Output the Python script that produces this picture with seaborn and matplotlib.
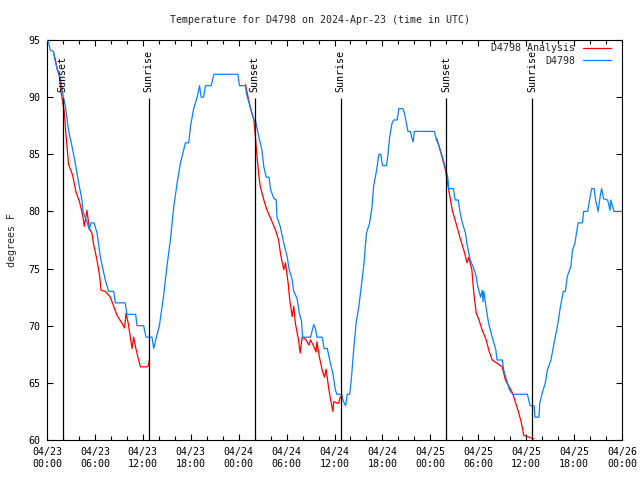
import matplotlib
matplotlib.use("Agg")
import numpy as np
import pandas as pd
import matplotlib.pyplot as plt
import matplotlib.dates as mdates
from matplotlib.lines import Line2D
import seaborn as sns

# ---------------- data ----------------
START = pd.Timestamp("2024-04-23 00:00")
END = pd.Timestamp("2024-04-26 00:00")

# observed station temperatures (hours since 04/23 00:00 UTC, deg F)
obs_hours = [0.0, 0.2, 0.41, 0.83, 1.04, 1.45, 1.67, 2.0, 2.3, 2.7, 3.13, 3.55, 3.96, 4.38, 4.5,
             5.0, 5.3, 5.5, 5.9, 6.27, 6.68, 7.3, 7.72, 8.35, 8.56, 9.8, 10.0, 11.1, 11.27, 12.1,
             12.4, 13.15, 13.36, 13.7, 14.07, 14.6, 15.0, 15.45, 15.87, 16.3, 16.7, 17.33, 17.75,
             17.96, 18.37, 18.8, 19.1, 19.3, 19.6, 19.84, 20.55, 20.9, 23.9, 24.1, 24.85, 24.98,
             25.5, 25.9, 26.1, 26.5, 26.9, 27.15, 27.45, 27.8, 28.0, 28.4, 28.7, 28.8, 29.2, 29.65,
             30.08, 30.3, 30.7, 30.9, 31.3, 31.6, 31.87, 32.0, 33.0, 33.4, 33.6, 33.8, 34.46, 34.7,
             35.1, 35.4, 35.8, 36.1, 36.3, 36.9, 37.1, 37.4, 37.6, 37.9, 38.1, 38.4, 38.7, 39.05,
             39.35, 39.7, 40.0, 40.4, 40.7, 40.9, 41.27, 41.55, 41.8, 42.0, 42.5, 42.7, 42.9, 43.2,
             43.4, 43.85, 44.06, 44.55, 44.76, 45.0, 45.2, 45.5, 45.7, 45.85, 46.0, 48.5, 48.75,
             49.05, 49.5, 49.9, 50.2, 50.3, 50.9, 51.1, 51.5, 51.7, 52.0, 52.4, 52.6, 53.0, 53.45,
             53.75, 53.95, 54.3, 54.5, 54.6, 54.7, 55.0, 55.3, 55.75, 56.2, 56.35, 57.0, 57.2,
             57.55, 57.9, 58.3, 60.15, 60.5, 61.0, 61.1, 61.6, 61.7, 62.0, 62.4, 62.65, 63.1, 63.5,
             63.9, 64.3, 64.65, 64.9, 65.15, 65.6, 65.8, 66.1, 66.3, 66.5, 67.05, 67.2, 67.7, 67.9,
             68.2, 68.5, 68.7, 69.0, 69.3, 69.45, 69.7, 70.2, 70.5, 70.6, 71.0, 72.0]
obs_temp = [95.0, 94.8, 94.1, 94.0, 93.1, 92.1, 91.6, 90.2, 89.2, 87.1, 85.7, 84.2, 82.5, 81.0, 80.0,
            79.1, 78.4, 79.0, 79.0, 78.1, 76.0, 74.0, 73.0, 73.0, 72.0, 72.0, 71.0, 71.0, 70.0, 70.0,
            69.0, 69.0, 68.0, 69.0, 70.0, 72.6, 75.1, 77.5, 80.4, 82.5, 84.2, 86.0, 86.0,
            87.4, 89.0, 90.0, 91.0, 90.0, 90.0, 91.0, 91.0, 92.0, 92.0, 91.0, 91.0, 90.3,
            89.0, 88.0, 88.0, 86.6, 85.4, 83.9, 83.0, 83.0, 81.9, 81.15, 81.0, 79.5, 78.7, 77.2,
            76.0, 75.0, 74.0, 73.0, 72.4, 71.1, 70.4, 69.0, 69.0, 70.1, 69.8, 69.0, 69.0, 68.0,
            68.0, 67.0, 65.8, 64.4, 64.0, 64.0, 63.4, 63.0, 64.0, 64.0, 65.25, 67.9, 70.2, 71.7,
            73.4, 75.5, 78.1, 79.0, 80.4, 82.2, 83.6, 85.0, 85.0, 84.0, 84.0, 85.0, 86.5, 87.7,
            88.0, 88.0, 89.0, 89.0, 88.6, 87.7, 87.0, 87.0, 86.4, 86.1, 87.0, 87.0, 86.3,
            85.8, 84.8, 83.8, 82.9, 82.0, 82.0, 81.0, 81.0, 80.0, 79.0, 78.1, 77.1, 75.75, 75.0,
            74.3, 73.4, 72.5, 73.1, 72.1, 73.0, 71.5, 70.2, 69.0, 67.9, 67.0, 67.0, 66.1,
            65.25, 64.4, 64.0, 64.0, 63.0, 63.0, 62.0, 62.0, 63.2, 64.1, 65.0, 66.1, 67.0, 68.5,
            69.9, 71.7, 73.0, 73.0, 74.3, 75.2, 76.6, 77.2, 78.1, 79.0, 79.0, 80.0, 80.0, 80.85,
            82.0, 82.0, 81.0, 80.0, 81.5, 82.0, 81.1, 81.0, 80.1, 81.0, 80.0, 80.0]

# analysis temperatures, three overnight segments
ana1_hours = [0.83, 1.04, 1.25, 1.54, 1.75, 2.17, 2.38, 2.7, 3.2, 3.63, 4.05, 4.46, 4.67, 5.0, 5.3,
              5.63, 5.84, 6.26, 6.6, 6.77, 7.3, 7.93, 8.35, 8.77, 9.4, 9.72, 9.9, 10.15, 10.44,
              10.65, 10.85, 11.07, 11.4, 11.7, 12.5, 12.7, 12.8]
ana1_temp = [93.8, 93.3, 92.5, 91.9, 90.5, 88.7, 86.7, 84.1, 83.2, 81.7, 80.9, 79.7, 78.7, 80.1, 78.5,
             78.1, 77.1, 75.75, 74.3, 73.1, 73.0, 72.5, 71.7, 70.9, 70.2, 69.8, 71.1, 70.3, 69.0,
             68.0, 69.0, 68.2, 67.2, 66.4, 66.4, 66.5, 67.0]
ana2_hours = [24.85, 25.25, 25.5, 25.9, 26.1, 26.3, 26.5, 26.7, 27.15, 27.55, 28.0, 28.6, 29.0, 29.24,
              29.65, 29.86, 30.2, 30.4, 30.7, 30.9, 31.1, 31.5, 31.7, 31.95, 32.4, 32.8, 33.0, 33.4,
              33.7, 33.8, 34.1, 34.46, 34.75, 34.95, 35.3, 35.6, 35.8, 35.9, 36.5, 36.75]
ana2_temp = [91.1, 89.75, 89.0, 88.0, 86.5, 84.8, 83.3, 82.2, 81.0, 80.1, 79.4, 78.4, 77.5, 76.3,
             74.9, 75.5, 73.7, 72.25, 70.8, 71.7, 70.2, 68.75, 67.6, 69.0, 68.8, 68.3, 68.75, 68.2,
             67.7, 68.6, 67.3, 66.1, 65.5, 66.2, 64.4, 63.2, 62.5, 63.35, 63.2, 63.8]
ana3_hours = [48.8, 49.3, 49.9, 50.3, 50.75, 51.2, 51.8, 52.2, 52.6, 52.8, 53.2, 53.45, 53.75, 54.1,
              54.5, 55.0, 55.3, 55.75, 56.4, 57.0, 57.4, 57.85, 58.3, 58.7, 59.1, 59.4, 59.7, 60.15,
              60.55, 60.97]
ana3_temp = [86.4, 85.2, 83.6, 81.9, 80.1, 79.0, 77.5, 76.6, 75.5, 76.0, 74.9, 72.8, 71.1, 70.5,
             69.6, 68.75, 67.9, 67.0, 66.7, 66.4, 65.25, 64.7, 64.1, 63.2, 62.3, 61.5, 60.4, 60.3,
             60.2, 60.1]

sunset_times = ["2024-04-23 01:58", "2024-04-24 02:00", "2024-04-25 01:58"]
sunrise_times = ["2024-04-23 12:44", "2024-04-24 12:46", "2024-04-25 12:44"]

yticks = [60, 65, 70, 75, 80, 85, 90, 95]
title_text = "Temperature for D4798 on 2024-Apr-23 (time in UTC)"
ylabel_text = "degrees F"
label_ana = "D4798 Analysis"
label_obs = "D4798"
color_ana = "#ff0000"
color_obs = "#0a80ff"

# ---------------- frames ----------------
obs_df = pd.DataFrame({"time": START + pd.to_timedelta(obs_hours, unit="h"), "temp": obs_temp})
ana_parts = []
for seg, (hh, tt) in enumerate([(ana1_hours, ana1_temp), (ana2_hours, ana2_temp), (ana3_hours, ana3_temp)]):
    ana_parts.append(pd.DataFrame({"time": START + pd.to_timedelta(hh, unit="h"), "temp": tt, "seg": seg}))
ana_df = pd.concat(ana_parts, ignore_index=True)

# ---------------- style ----------------
sns.set_style("ticks")
plt.rcParams["font.family"] = ["DejaVu Sans Mono", "DejaVu Sans"]
plt.rcParams["font.size"] = 7.2

fig = plt.figure(figsize=(6.4, 4.8), dpi=100)
ax = fig.add_axes([47 / 640, 40 / 480, 575 / 640, 400 / 480])

sns.lineplot(data=ana_df, x="time", y="temp", units="seg", estimator=None,
             color=color_ana, lw=0.9, ax=ax, zorder=2)
sns.lineplot(data=obs_df, x="time", y="temp", color=color_obs, lw=0.9, ax=ax, zorder=3)

for name, times in (("Sunset", sunset_times), ("Sunrise", sunrise_times)):
    for t in times:
        tt = pd.Timestamp(t)
        ax.vlines(tt, 60, 89.9, color="black", lw=0.9, zorder=4)
        ax.text(tt, 90.45, name, rotation=90, ha="center", va="bottom",
                fontsize=7.2, color="black", zorder=5)

ax.set_xlim(START, END)
ax.set_ylim(60, 95)
ax.set_yticks(yticks)
ax.set_xticks(pd.date_range(START, END, freq="6h"))
ax.xaxis.set_minor_locator(mdates.HourLocator(byhour=range(0, 24, 2)))
ax.xaxis.set_major_formatter(mdates.DateFormatter("%m/%d\n%H:%M"))

ax.tick_params(axis="both", which="both", direction="in", top=True, right=True,
               colors="black", labelsize=7.2, width=0.8)
ax.tick_params(axis="x", which="major", length=4.5, pad=5)
ax.tick_params(axis="x", which="minor", length=3.0)
ax.tick_params(axis="y", which="major", length=4.0, pad=5)
for s in ax.spines.values():
    s.set_visible(True)
    s.set_color("black")
    s.set_linewidth(0.8)

ax.set_xlabel("")
ax.set_ylabel(ylabel_text, fontsize=7.2)
ax.yaxis.set_label_coords(-0.052, 0.5)

fig.text(0.5, 1 - 20 / 480, title_text, ha="center", va="center", fontsize=7.2)

handles = [Line2D([], [], color=color_ana, lw=0.9), Line2D([], [], color=color_obs, lw=0.9)]
ax.legend(handles, [label_ana, label_obs], loc="upper right",
          bbox_to_anchor=(611 / 640, 1 - 43 / 480), bbox_transform=fig.transFigure,
          frameon=False, markerfirst=False, handlelength=2.8, handletextpad=0.8,
          borderaxespad=0, borderpad=0, labelspacing=0.25, fontsize=7.2)

fig.savefig("out.png", dpi=100)
